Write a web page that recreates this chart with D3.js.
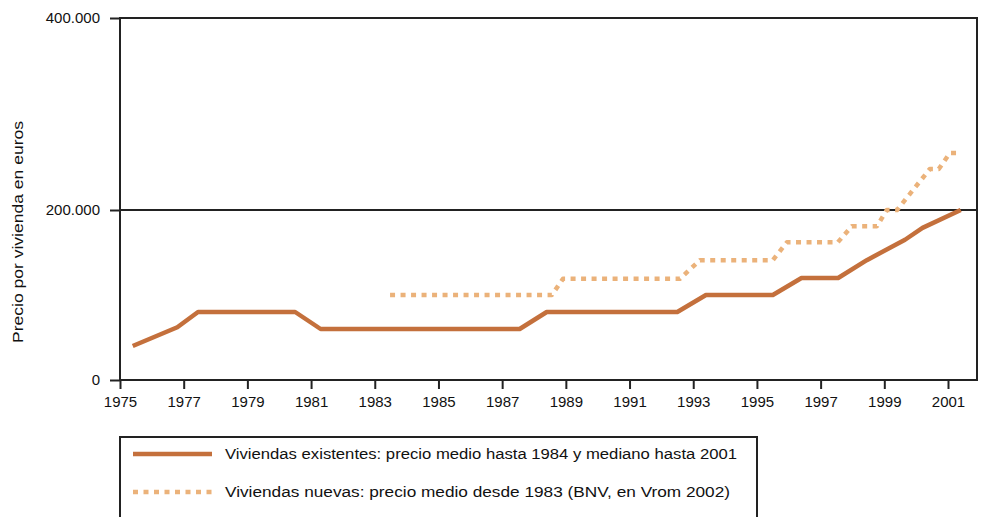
<!DOCTYPE html>
<meta charset="utf-8">
<style>
body { margin: 0; background: #fff; }
svg { display: block; font-family: "Liberation Sans", Arial, sans-serif; }
.axis path { display: none; }
.axis line { stroke: #222; stroke-width: 2; }
.axis text { font-size: 15px; fill: #111; }
.frame { fill: none; stroke: #222; stroke-width: 2; }
.grid { stroke: #222; stroke-width: 2; }
.line { fill: none; stroke-linejoin: round; }
.existing { stroke: #c4703c; stroke-width: 4.5; }
.nuevas { stroke: #ebb27a; stroke-width: 4.5; stroke-dasharray: 5 5.5; }
.legend-box { fill: none; stroke: #222; stroke-width: 2; }
.legend text { font-size: 14px; fill: #111; }
</style>
<svg width="983" height="517"></svg>
<script src="https://d3js.org/d3.v7.min.js"></script>
<script>

// existing homes: breakpoints
var existYears  = [1975.4, 1976.8, 1977.45, 1980.5, 1981.3, 1987.55, 1988.4, 1992.5, 1993.4, 1995.5, 1996.4, 1997.55, 1998.45, 1999.65, 2000.2, 2001.4];
var existValues = [40000, 62000, 80000, 80000, 60000, 60000, 80000, 80000, 100000, 100000, 120000, 120000, 141000, 165000, 179000, 200000];

// new homes
var newYears  = [1983.48, 1988.56, 1988.91, 1992.58, 1993.21, 1995.5, 1995.94, 1997.54, 1997.98, 1998.77, 1999.08, 1999.4, 2000.43, 2000.71, 2001.06, 2001.37];
var newValues = [100000, 100000, 119000, 119000, 141000, 141000, 162000, 162000, 181000, 181000, 200000, 200000, 242700, 242700, 259400, 259400];

var xTicks = [1975, 1977, 1979, 1981, 1983, 1985, 1987, 1989, 1991, 1993, 1995, 1997, 1999, 2001];
var yTicks = [0, 200000, 400000];
var yTickLabels = ["0", "200.000", "400.000"];

var legendLabels = [
  "Viviendas existentes: precio medio hasta 1984 y mediano hasta 2001",
  "Viviendas nuevas: precio medio desde 1983 (BNV, en Vrom 2002)"
];

var svg = d3.select("svg");

var plotLeft = 120, plotRight = 977, plotTop = 18, plotBottom = 380;

var x = d3.scaleLinear()
    .domain([1975, 2001])
    .range([120, 948]);

var y = d3.scaleLinear()
    .domain([0, 200000, 400000])
    .range([plotBottom, 210, plotTop]);

var line = d3.line()
    .x(function(d) { return x(d[0]); })
    .y(function(d) { return y(d[1]); });

// frame + 200.000 line
svg.append("rect")
    .attr("class", "frame")
    .attr("x", plotLeft)
    .attr("y", plotTop)
    .attr("width", plotRight - plotLeft)
    .attr("height", plotBottom - plotTop);

svg.append("line")
    .attr("class", "grid")
    .attr("x1", plotLeft).attr("x2", plotRight)
    .attr("y1", y(200000)).attr("y2", y(200000));

svg.append("g")
    .attr("class", "axis")
    .attr("transform", "translate(" + plotLeft + ",0)")
    .call(d3.axisLeft(y)
        .tickValues(yTicks)
        .tickSize(10)
        .tickPadding(10)
        .tickFormat(function(d, i) { return yTickLabels[i]; }));

svg.append("g")
    .attr("class", "axis")
    .attr("transform", "translate(0," + plotBottom + ")")
    .call(d3.axisBottom(x)
        .tickValues(xTicks)
        .tickSize(9)
        .tickPadding(7)
        .tickFormat(d3.format("d")));

svg.append("text")
    .attr("transform", "translate(18," + 232 + ") rotate(-90)")
    .attr("text-anchor", "middle")
    .attr("dy", "0.35em")
    .attr("textLength", 222)
    .attr("lengthAdjust", "spacingAndGlyphs")
    .style("font-size", "14px")
    .attr("fill", "#111")
    .text("Precio por vivienda en euros");

svg.append("path")
    .datum(d3.zip(newYears, newValues))
    .attr("class", "line nuevas")
    .attr("d", line);

svg.append("path")
    .datum(d3.zip(existYears, existValues))
    .attr("class", "line existing")
    .attr("d", line);

// legend
var legend = svg.append("g").attr("class", "legend");

legend.append("rect")
    .attr("class", "legend-box")
    .attr("x", 120)
    .attr("y", 437)
    .attr("width", 637)
    .attr("height", 120);

var rows = legend.selectAll(".row")
    .data(legendLabels)
  .enter().append("g")
    .attr("transform", function(d, i) { return "translate(0," + (454 + i * 38) + ")"; });

rows.append("line")
    .attr("class", function(d, i) { return i ? "nuevas" : "existing"; })
    .attr("x1", 133).attr("x2", 212);

rows.append("text")
    .attr("x", 225)
    .attr("dy", "0.35em")
    .attr("textLength", function(d, i) { return i ? 505 : 512; })
    .attr("lengthAdjust", "spacingAndGlyphs")
    .text(function(d) { return d; });

</script>
